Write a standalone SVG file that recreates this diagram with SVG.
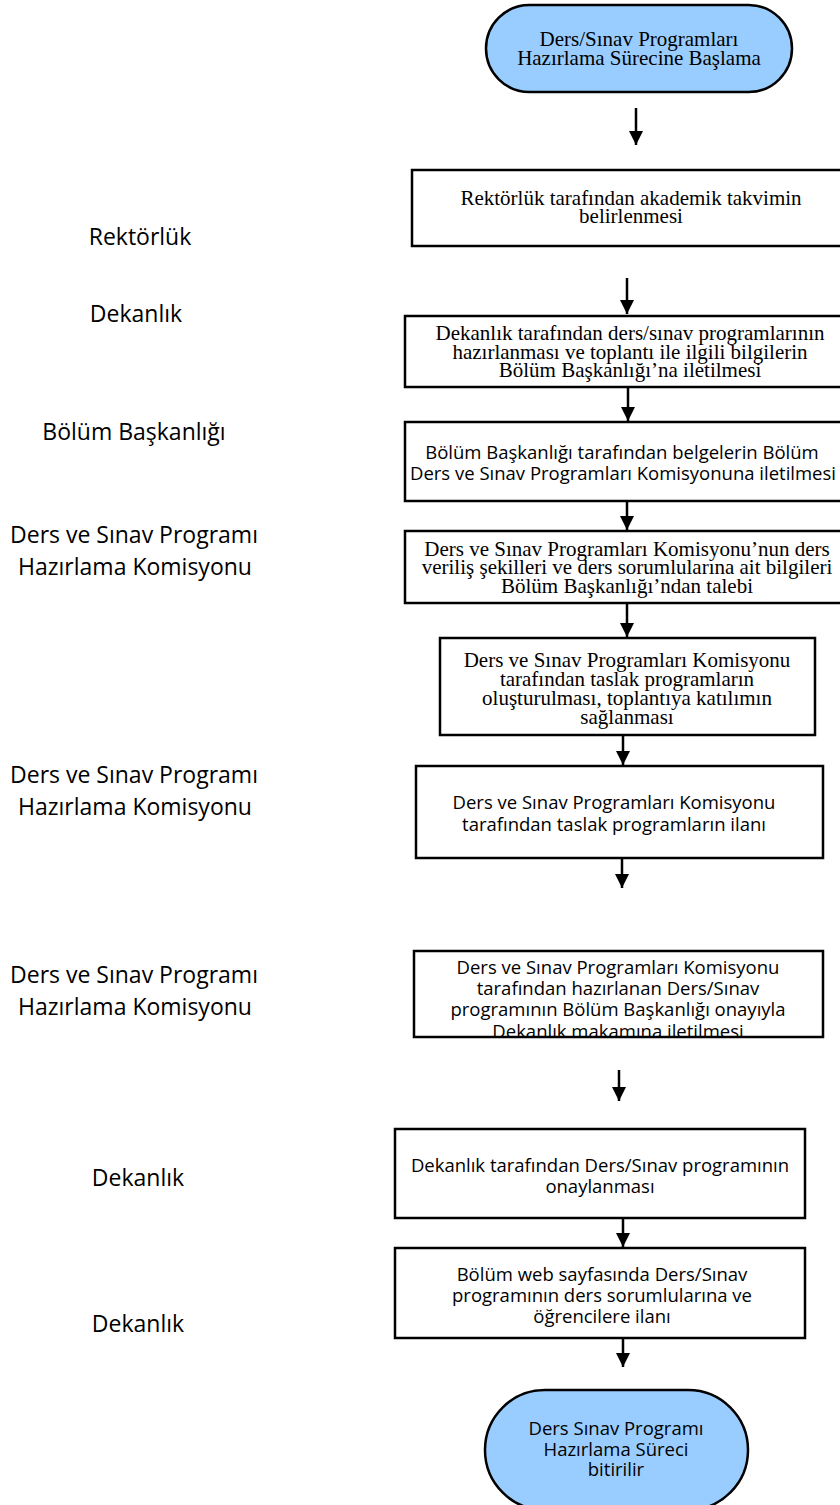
<svg xmlns="http://www.w3.org/2000/svg" width="840" height="1505" viewBox="0 0 840 1505">
<style>
.box{fill:#fff;stroke:#000;stroke-width:2.5}
.term{fill:#99CCFF;stroke:#000;stroke-width:2.5}
.serif{font-family:"Liberation Serif","Times New Roman",serif;font-size:21px;fill:#000;text-anchor:middle}
.sans{font-family:"Open Sans","Liberation Sans",sans-serif;font-size:18.5px;fill:#000;text-anchor:middle}
.lbl{font-family:"Open Sans","Liberation Sans",sans-serif;font-size:23px;fill:#000;text-anchor:middle}
.conn{stroke:#000;stroke-width:2.5;fill:none;marker-end:url(#ah)}
</style>
<defs>
<marker id="ah" markerUnits="userSpaceOnUse" markerWidth="16" markerHeight="16" refX="14" refY="7" orient="auto">
<path d="M0,0 L14,7 L0,14 Z" fill="#000"/>
</marker>
<clipPath id="c7"><rect x="414" y="951" width="409" height="85"/></clipPath>
</defs>
<rect width="840" height="1505" fill="#fff"/>

<g id="labels">
<text class="lbl" x="140" y="245">Rektörlük</text>
<text class="lbl" x="136" y="322">Dekanlık</text>
<text class="lbl" x="134" y="440">Bölüm Başkanlığı</text>
<text class="lbl" x="134" y="543">Ders ve Sınav Programı</text>
<text class="lbl" x="135" y="575">Hazırlama Komisyonu</text>
<text class="lbl" x="134" y="783">Ders ve Sınav Programı</text>
<text class="lbl" x="135" y="815">Hazırlama Komisyonu</text>
<text class="lbl" x="134" y="983">Ders ve Sınav Programı</text>
<text class="lbl" x="135" y="1015">Hazırlama Komisyonu</text>
<text class="lbl" x="138" y="1186">Dekanlık</text>
<text class="lbl" x="138" y="1332">Dekanlık</text>
</g>

<g id="start">
<rect class="term" x="486" y="5" width="306" height="87" rx="43.5"/>
<text class="serif" x="639" y="46">Ders/Sınav Programları</text>
<text class="serif" x="639" y="65">Hazırlama Sürecine Başlama</text>
</g>

<g id="n1">
<rect class="box" x="412" y="170" width="438" height="76"/>
<text class="serif" x="631" y="205">Rektörlük tarafından akademik takvimin</text>
<text class="serif" x="631" y="223">belirlenmesi</text>
</g>

<g id="n2">
<rect class="box" x="405" y="316" width="450" height="71"/>
<text class="serif" x="630" y="340">Dekanlık tarafından ders/sınav programlarının</text>
<text class="serif" x="630" y="358.5">hazırlanması ve toplantı ile ilgili bilgilerin</text>
<text class="serif" x="630" y="377">Bölüm Başkanlığı’na iletilmesi</text>
</g>

<g id="n3">
<rect class="box" x="405" y="422" width="440" height="79"/>
<text class="sans" x="622" y="459">Bölüm Başkanlığı tarafından belgelerin Bölüm</text>
<text class="sans" x="623" y="480">Ders ve Sınav Programları Komisyonuna iletilmesi</text>
</g>

<g id="n4">
<rect class="box" x="405" y="531" width="444" height="72"/>
<text class="serif" x="627" y="555.5">Ders ve Sınav Programları Komisyonu’nun ders</text>
<text class="serif" x="627" y="574">veriliş şekilleri ve ders sorumlularına ait bilgileri</text>
<text class="serif" x="627" y="592.5">Bölüm Başkanlığı’ndan talebi</text>
</g>

<g id="n5">
<rect class="box" x="440" y="638" width="375" height="97"/>
<text class="serif" x="627" y="667">Ders ve Sınav Programları Komisyonu</text>
<text class="serif" x="627" y="686">tarafından taslak programların</text>
<text class="serif" x="627" y="705">oluşturulması, toplantıya katılımın</text>
<text class="serif" x="627" y="724">sağlanması</text>
</g>

<g id="n6">
<rect class="box" x="416" y="766" width="407" height="92"/>
<text class="sans" x="614" y="809">Ders ve Sınav Programları Komisyonu</text>
<text class="sans" x="614" y="831">tarafından taslak programların ilanı</text>
</g>

<g id="n7">
<g clip-path="url(#c7)">
<text class="sans" x="618" y="974">Ders ve Sınav Programları Komisyonu</text>
<text class="sans" x="618" y="995">tarafından hazırlanan Ders/Sınav</text>
<text class="sans" x="618" y="1016">programının Bölüm Başkanlığı onayıyla</text>
<text class="sans" x="618" y="1037.5">Dekanlık makamına iletilmesi</text>
</g>
<rect class="box" x="414" y="951" width="409" height="86" fill="none" style="fill:none"/>
</g>

<g id="n8">
<rect class="box" x="395" y="1129" width="410" height="89"/>
<text class="sans" x="600" y="1172">Dekanlık tarafından Ders/Sınav programının</text>
<text class="sans" x="600" y="1193">onaylanması</text>
</g>

<g id="n9">
<rect class="box" x="395" y="1248" width="410" height="90"/>
<text class="sans" x="602" y="1281">Bölüm web sayfasında Ders/Sınav</text>
<text class="sans" x="602" y="1302">programının ders sorumlularına ve</text>
<text class="sans" x="602" y="1323">öğrencilere ilanı</text>
</g>

<g id="end">
<rect class="term" x="485" y="1390" width="263" height="120" rx="60"/>
<text class="sans" x="616" y="1435">Ders Sınav Programı</text>
<text class="sans" x="616" y="1455.5">Hazırlama Süreci</text>
<text class="sans" x="616" y="1476">bitirilir</text>
</g>

<g id="connectors">
<line class="conn" x1="636" y1="108" x2="636" y2="145"/>
<line class="conn" x1="627" y1="278" x2="627" y2="314"/>
<line class="conn" x1="628" y1="387" x2="628" y2="421"/>
<line class="conn" x1="627" y1="501" x2="627" y2="530"/>
<line class="conn" x1="627" y1="603" x2="627" y2="637"/>
<line class="conn" x1="623" y1="735" x2="623" y2="765"/>
<line class="conn" x1="622" y1="858" x2="622" y2="888"/>
<line class="conn" x1="619" y1="1070" x2="619" y2="1101"/>
<line class="conn" x1="623" y1="1218" x2="623" y2="1247"/>
<line class="conn" x1="623" y1="1338" x2="623" y2="1367"/>
</g>
</svg>
